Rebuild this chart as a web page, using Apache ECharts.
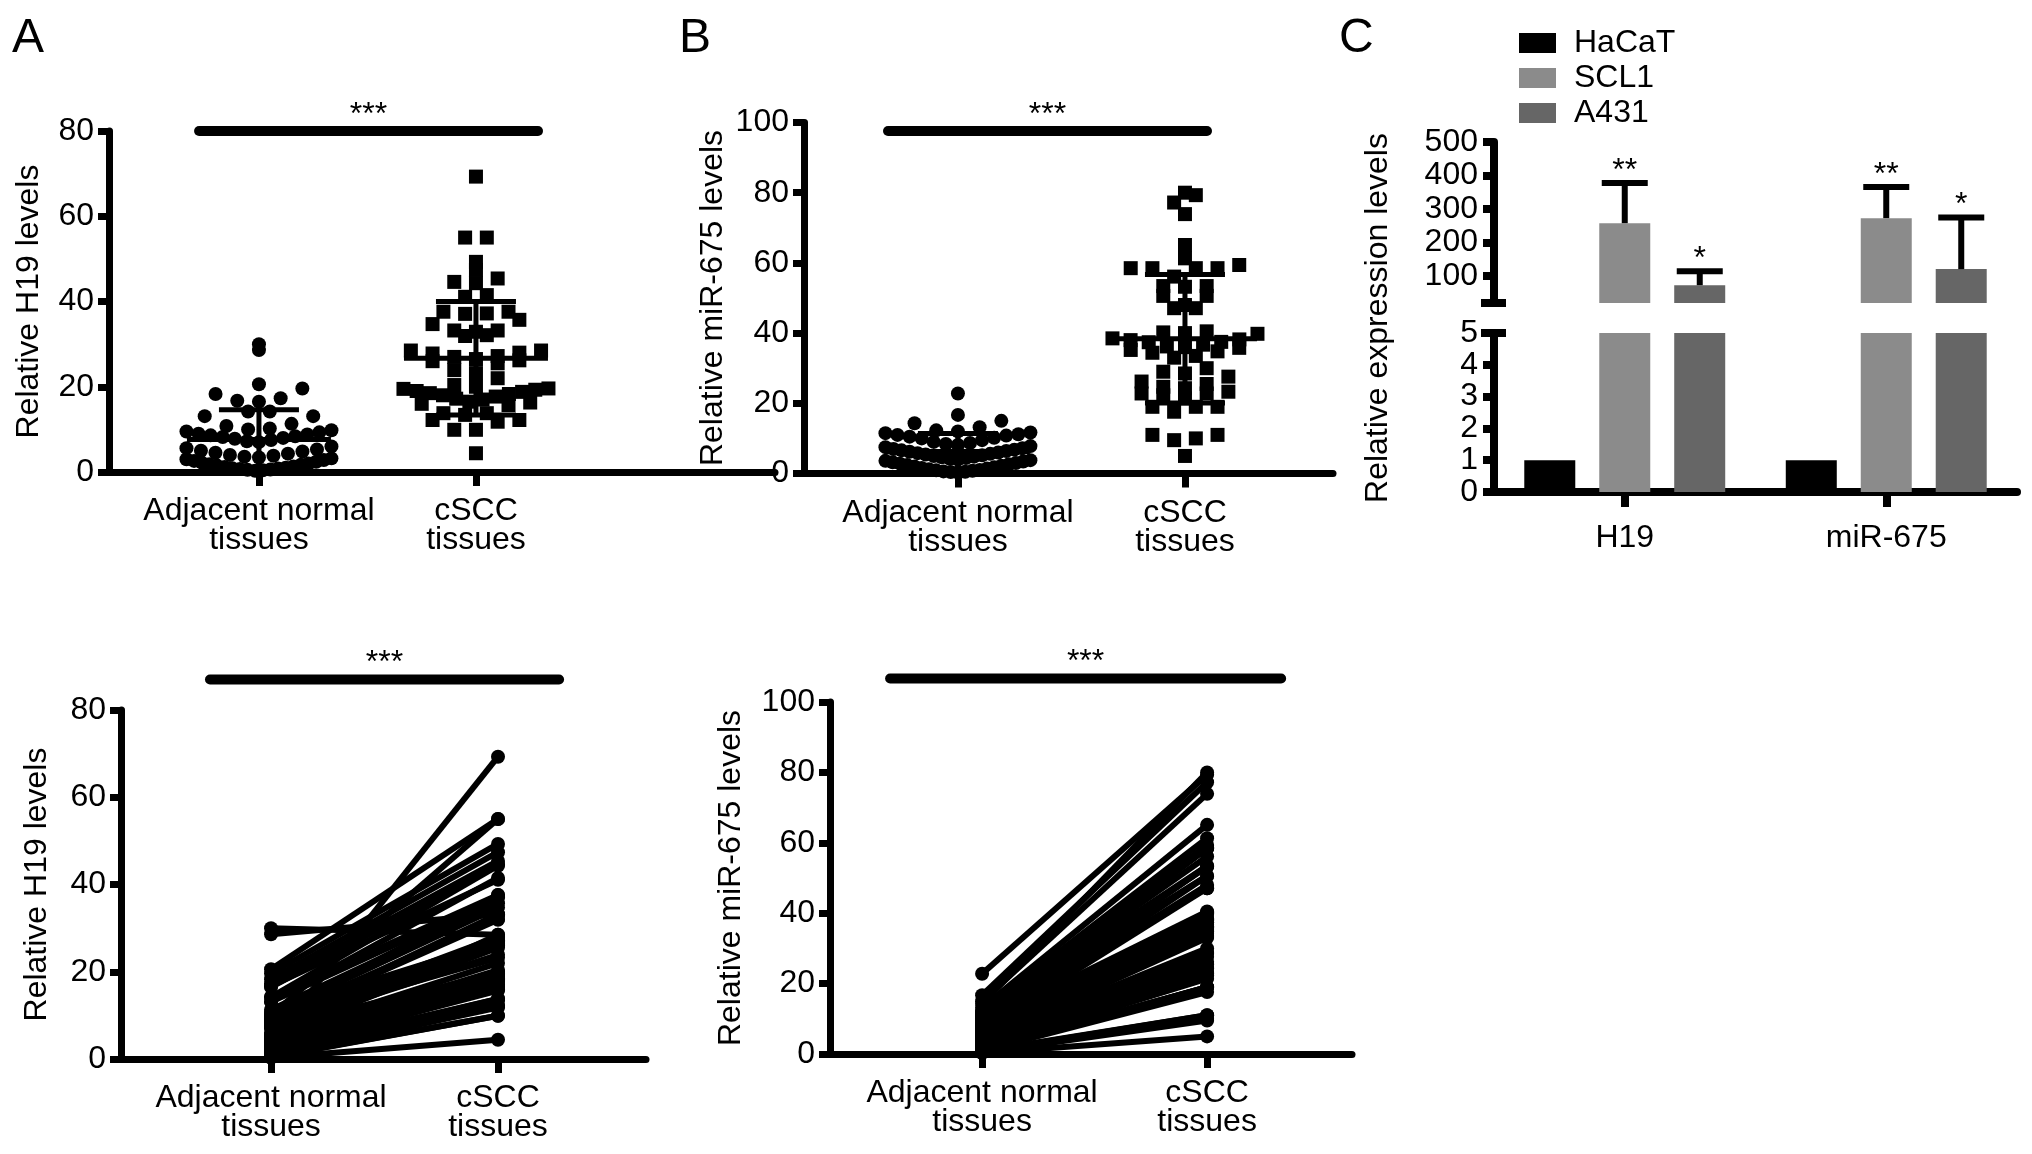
<!DOCTYPE html>
<html><head><meta charset="utf-8">
<script src="https://cdn.jsdelivr.net/npm/echarts@6/dist/echarts.min.js"></script>
<style>html,body{margin:0;padding:0;background:#fff}#c{width:2032px;height:1154px}</style>
</head><body><div id="c"></div>
<script>
const FONT = '"Liberation Sans", Arial, Helvetica, sans-serif';

// ---------- Panels A / B : categories ----------
const groupLabels = ['Adjacent normal\ntissues', 'cSCC\ntissues'];

// Paired samples (index i = same patient)
const h19Normal = [30.0, 28.6, 20.6, 19.6, 18.3, 17.3, 16.7, 16.5, 14.2, 14.2, 13.1, 13.1, 11.3, 10.8, 10.2,
  10.0, 9.8, 9.5, 9.3, 9.0, 8.8, 8.6, 8.4, 8.2, 8.0, 7.8, 7.5, 7.2, 7.0,
  6.0, 5.6, 5.3, 5.0, 4.8, 4.5, 4.3, 4.0, 3.8, 3.6, 3.4, 3.2, 3.0, 2.8, 2.6, 2.4, 2.2, 2.0, 1.8, 1.7,
  1.5, 1.3, 1.2, 1.0, 0.9, 0.8, 0.7, 0.6, 0.5, 0.4, 0.3];
const h19Cancer = [28.5, 33.2, 55.0, 49.3, 47.4, 45.4, 41.1, 44.6, 37.6, 44.3, 41.5, 37.1, 35.7, 27.0, 34.7,
  55.0, 37.2, 32.1, 26.0, 37.6, 31.9, 28.0, 33.2, 23.2, 32.9, 27.2, 26.5, 19.6, 23.9,
  25.5, 27.8, 22.0, 26.2, 19.3, 20.4, 28.5, 69.3, 18.8, 20.0, 18.3, 17.7, 19.5, 17.0, 16.5, 19.0, 16.0, 15.7, 18.5, 13.8,
  18.0, 17.2, 13.8, 16.3, 13.4, 12.2, 12.2, 11.8, 9.9, 9.9, 4.4];
const mirNormal = [22.8, 16.7, 15.0, 14.3, 13.2, 12.3, 12.0, 11.7, 11.5, 11.2, 11.0, 10.8, 10.5, 10.2, 10.0,
  9.5, 9.0, 8.7, 8.4, 8.1, 7.8, 7.5, 7.2, 7.0, 6.8, 6.6, 6.4, 6.2, 6.0, 5.8, 5.6, 5.4, 5.2, 5.0,
  4.8, 4.6, 4.4, 4.2, 4.0, 3.8, 3.6, 3.4, 3.2, 3.0, 2.8, 2.6, 2.4, 2.2, 2.0, 1.8, 1.6, 1.4, 1.2, 1.0,
  0.9, 0.8, 0.6, 0.5, 0.4, 0.3];
const mirCancer = [79.3, 77.2, 73.9, 80.0, 65.1, 61.3, 58.5, 59.4, 58.5, 53.4, 56.1, 50.6, 58.5, 47.1, 53.2,
  58.5, 40.5, 53.4, 38.5, 48.0, 40.0, 50.6, 38.0, 47.1, 37.4, 40.2, 36.7, 39.8, 36.0, 38.2, 35.2, 37.5, 34.4, 36.2,
  33.5, 34.8, 35.8, 30.0, 33.0, 29.0, 28.5, 27.6, 26.2, 25.5, 24.7, 24.3, 23.3, 22.8, 22.8, 22.3, 21.4, 19.0, 19.0, 19.0,
  17.6, 11.0, 11.0, 10.0, 9.5, 5.0];

// Mean and SD shown on the dot plots (normal, cSCC)
const h19Mean = [7.6, 26.7];
const h19SD = [7.0, 13.3];
const mirMean = [6.3, 38.4];
const mirSD = [5.1, 18.3];

// Significance labels
const sigTop = ['***', '***'];
const sigBottom = ['***', '***'];

// ---------- Panel C ----------
const cellCats = ['H19', 'miR-675'];
const cellLines = ['HaCaT', 'SCL1', 'A431'];
const hacatVals = [1, 1];
const scl1Vals = [258, 273];
const a431Vals = [73, 121];
const scl1Err = [120, 93];
const a431Err = [42, 154];
const scl1Sig = ['**', '**'];
const a431Sig = ['*', '*'];
const cUpperTicks = [100, 200, 300, 400, 500];

// ---------- helpers ----------
function swarm(values, pxPerUnit, size, maxSpread) {
  const bin = size / pxPerUnit;
  const bins = {};
  values.forEach((v, i) => { const k = Math.floor(v / bin); (bins[k] = bins[k] || []).push(i); });
  const off = new Array(values.length).fill(0);
  Object.values(bins).forEach(idx => {
    idx.sort((a, b) => values[a] - values[b]);
    const n = idx.length;
    const sp = n > 1 ? Math.min(size * 1.55, maxSpread / (n - 1)) : 0;
    const slots = [];
    for (let j = 0; j < n; j++) slots.push((j - (n - 1) / 2) * sp);
    slots.sort((a, b) => Math.abs(a) - Math.abs(b) || a - b);
    idx.forEach((id, j) => { off[id] = slots[j]; });
  });
  return off;
}

const black = '#000';
const AXW = 7;

function xAxisGroups(gridIndex, min, max) {
  return {
    gridIndex, type: 'value', min, max, splitLine: { show: false },
    axisLine: { show: true, onZero: false, lineStyle: { color: black, width: AXW } },
    axisTick: { show: true, customValues: [1, 2], length: 14, lineStyle: { color: black, width: AXW } },
    axisLabel: { show: true, customValues: [1, 2], formatter: v => groupLabels[Math.round(v) - 1],
      fontSize: 32, lineHeight: 29, color: black, margin: 25, fontFamily: FONT }
  };
}
function yAxisVal(gridIndex, max, name, nameGap) {
  return {
    gridIndex, type: 'value', min: 0, max, interval: 20, splitLine: { show: false },
    axisLine: { show: true, onZero: false, lineStyle: { color: black, width: AXW } },
    axisTick: { show: true, length: 11, lineStyle: { color: black, width: AXW } },
    axisLabel: { fontSize: 32, color: black, margin: 15, fontFamily: FONT },
    name, nameLocation: 'middle', nameGap,
    nameTextStyle: { fontSize: 32, color: black, fontFamily: FONT }
  };
}

function dotSeries(gi, catIdx, values, pxPerUnit, symbol, size) {
  const off = swarm(values, pxPerUnit, size, 145);
  return {
    type: 'scatter', xAxisIndex: gi, yAxisIndex: gi, symbol, symbolSize: size,
    itemStyle: { color: black, opacity: 1 }, silent: true, z: 3,
    data: values.map((v, i) => ({ value: [catIdx + 1, v], symbolOffset: [off[i], 0] }))
  };
}
function meanSDSeries(gi, means, sds) {
  return {
    type: 'custom', xAxisIndex: gi, yAxisIndex: gi, z: 4, silent: true,
    data: means.map((m, i) => [i + 1, m, sds[i]]),
    renderItem: (params, api) => {
      const x = api.value(0), m = api.value(1), s = api.value(2);
      const c = api.coord([x, m]);
      const t = api.coord([x, m + s]);
      const b = api.coord([x, Math.max(0, m - s)]);
      const st = { stroke: black, lineWidth: 5 };
      return { type: 'group', children: [
        { type: 'line', shape: { x1: c[0] - 72, y1: c[1], x2: c[0] + 72, y2: c[1] }, style: st },
        { type: 'line', shape: { x1: c[0], y1: t[1], x2: c[0], y2: b[1] }, style: st },
        { type: 'line', shape: { x1: c[0] - 40, y1: t[1], x2: c[0] + 40, y2: t[1] }, style: st },
        { type: 'line', shape: { x1: c[0] - 40, y1: b[1], x2: c[0] + 40, y2: b[1] }, style: st }
      ] };
    }
  };
}
function sigSeries(gi, x1, x2, y, label) {
  return {
    type: 'custom', xAxisIndex: gi, yAxisIndex: gi, silent: true, z: 5,
    data: [[x1, y, x2]],
    renderItem: (params, api) => {
      const p1 = api.coord([api.value(0), api.value(1)]);
      const p2 = api.coord([api.value(2), api.value(1)]);
      return { type: 'group', children: [
        { type: 'line', shape: { x1: p1[0], y1: p1[1], x2: p2[0], y2: p2[1] },
          style: { stroke: black, lineWidth: 10, lineCap: 'round' } },
        { type: 'text', x: (p1[0] + p2[0]) / 2, y: p1[1] - 16,
          style: { text: label, fill: black, font: '32px ' + FONT, align: 'center', verticalAlign: 'middle' } }
      ] };
    }
  };
}
function pairedSeries(gi, normal, cancer) {
  return {
    type: 'custom', xAxisIndex: gi, yAxisIndex: gi, silent: true, z: 3,
    data: normal.map((n, i) => [n, cancer[i]]),
    renderItem: (params, api) => {
      const a = api.coord([1, api.value(0)]);
      const b = api.coord([2, api.value(1)]);
      return { type: 'group', children: [
        { type: 'line', shape: { x1: a[0], y1: a[1], x2: b[0], y2: b[1] }, style: { stroke: black, lineWidth: 6 } },
        { type: 'circle', shape: { cx: a[0], cy: a[1], r: 7 }, style: { fill: black } },
        { type: 'circle', shape: { cx: b[0], cy: b[1], r: 7 }, style: { fill: black } }
      ] };
    }
  };
}

// ---------- Panel C series ----------
const cColors = ['#000000', '#8b8b8b', '#666666'];
const cVals = [hacatVals, scl1Vals, a431Vals];
function cBars(gi) {
  return cellLines.map((name, k) => ({
    type: 'bar', name, xAxisIndex: gi, yAxisIndex: gi, data: cVals[k], barWidth: 51, barGap: '47%',
    clip: true, itemStyle: { color: cColors[k] }, silent: true
  }));
}
function cErr(vals, errs, sigs, offset) {
  return {
    type: 'custom', xAxisIndex: 4, yAxisIndex: 4, silent: true, z: 5,
    data: vals.map((v, i) => [i, v, errs[i]]),
    renderItem: (params, api) => {
      const i = api.value(0), v = api.value(1), e = api.value(2);
      const b = api.coord([i, v]);
      const t = api.coord([i, v + e]);
      const x = b[0] + offset;
      const st = { stroke: black, lineWidth: 6 };
      return { type: 'group', children: [
        { type: 'line', shape: { x1: x, y1: b[1], x2: x, y2: t[1] }, style: st },
        { type: 'line', shape: { x1: x - 23, y1: t[1], x2: x + 23, y2: t[1] }, style: st },
        { type: 'text', x, y: t[1] - 12,
          style: { text: sigs[params.dataIndex], fill: black, font: '32px ' + FONT, align: 'center', verticalAlign: 'middle' } }
      ] };
    }
  };
}
function breakMark(gi, value) {
  return {
    type: 'custom', xAxisIndex: gi, yAxisIndex: gi, silent: true, z: 5,
    data: [[0, value]],
    renderItem: (params, api) => {
      const y = api.coord([0, api.value(1)])[1];
      const x = params.coordSys.x;
      return { type: 'line', shape: { x1: x - 13, y1: y, x2: x + 12, y2: y }, style: { stroke: black, lineWidth: 8 } };
    }
  };
}

const option = {
  animation: false,
  backgroundColor: '#fff',
  textStyle: { fontFamily: FONT },
  grid: [
    { left: 109, top: 131, width: 666, height: 341 },
    { left: 804, top: 122.5, width: 529, height: 351 },
    { left: 121, top: 710, width: 525, height: 349 },
    { left: 830, top: 702, width: 522, height: 352 },
    { left: 1494, top: 142, width: 523, height: 161 },
    { left: 1494, top: 333, width: 523, height: 159 }
  ],
  xAxis: [
    xAxisGroups(0, 0.309, 3.378),
    xAxisGroups(1, 0.322, 2.652),
    xAxisGroups(2, 0.339, 2.652),
    xAxisGroups(3, 0.324, 2.644),
    { gridIndex: 4, type: 'category', data: cellCats, show: false },
    { gridIndex: 5, type: 'category', data: cellCats,
      axisLine: { show: true, onZero: false, lineStyle: { color: black, width: 8 } },
      axisTick: { show: true, alignWithLabel: true, length: 15, lineStyle: { color: black, width: 8 } },
      axisLabel: { fontSize: 32, color: black, margin: 30, fontFamily: FONT } }
  ],
  yAxis: [
    yAxisVal(0, 80, 'Relative H19 levels', 64),
    yAxisVal(1, 100, 'Relative miR-675 levels', 75),
    yAxisVal(2, 80, 'Relative H19 levels', 68),
    yAxisVal(3, 100, 'Relative miR-675 levels', 83),
    { gridIndex: 4, type: 'value', min: 20, max: 500, splitLine: { show: false },
      axisLine: { show: true, onZero: false, lineStyle: { color: black, width: 8 } },
      axisTick: { show: true, customValues: cUpperTicks, length: 11, lineStyle: { color: black, width: 8 } },
      axisLabel: { customValues: cUpperTicks, fontSize: 32, color: black, margin: 16, fontFamily: FONT } },
    { gridIndex: 5, type: 'value', min: 0, max: 5, interval: 1, splitLine: { show: false },
      axisLine: { show: true, onZero: false, lineStyle: { color: black, width: 8 } },
      axisTick: { show: true, length: 11, lineStyle: { color: black, width: 8 } },
      axisLabel: { fontSize: 32, color: black, margin: 16, fontFamily: FONT } }
  ],
  legend: {
    data: cellLines, orient: 'vertical', left: 1514, top: 22, itemWidth: 37, itemHeight: 20, itemGap: 3,
    icon: 'rect', selectedMode: false,
    textStyle: { fontSize: 32, color: black, fontFamily: FONT, padding: [0, 0, 0, 13] }
  },
  graphic: [
    { type: 'text', x: 12, y: 39, style: { text: 'A', font: '48px ' + FONT, fill: black, verticalAlign: 'middle' } },
    { type: 'text', x: 679, y: 39, style: { text: 'B', font: '48px ' + FONT, fill: black, verticalAlign: 'middle' } },
    { type: 'text', x: 1339, y: 39, style: { text: 'C', font: '48px ' + FONT, fill: black, verticalAlign: 'middle' } },
    { type: 'text', x: 1378, y: 318, rotation: Math.PI / 2,
      style: { text: 'Relative expression levels', font: '32px ' + FONT, fill: black, align: 'center', verticalAlign: 'middle' } }
  ],
  series: [
    dotSeries(0, 0, h19Normal, 341 / 80, 'circle', 14),
    dotSeries(0, 1, h19Cancer, 341 / 80, 'rect', 14),
    meanSDSeries(0, h19Mean, h19SD),
    sigSeries(0, 0.724, 2.286, 80, sigTop[0]),
    dotSeries(1, 0, mirNormal, 351 / 100, 'circle', 14),
    dotSeries(1, 1, mirCancer, 351 / 100, 'rect', 14),
    meanSDSeries(1, mirMean, mirSD),
    sigSeries(1, 0.692, 2.097, 97.6, sigTop[1]),
    pairedSeries(2, h19Normal, h19Cancer),
    sigSeries(2, 0.731, 2.269, 87, sigBottom[0]),
    pairedSeries(3, mirNormal, mirCancer),
    sigSeries(3, 0.591, 2.329, 106.7, sigBottom[1]),
    ...cBars(4),
    ...cBars(5),
    cErr(scl1Vals, scl1Err, scl1Sig, 0),
    cErr(a431Vals, a431Err, a431Sig, 75),
    breakMark(4, 20),
    breakMark(5, 5)
  ]
};
const chart = echarts.init(document.getElementById('c'), null, { renderer: 'canvas' });
chart.setOption(option);
</script>
</body></html>
